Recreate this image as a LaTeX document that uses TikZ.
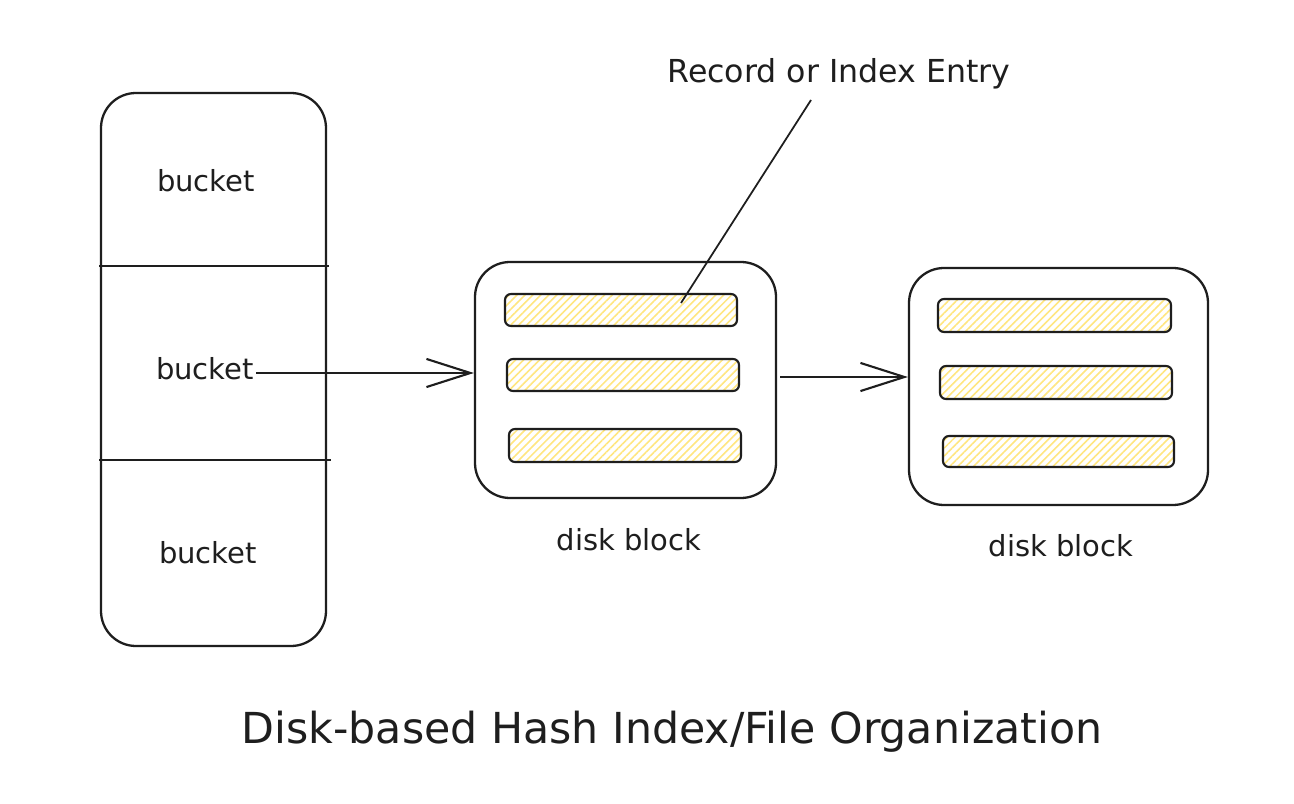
\documentclass[tikz,border=0pt]{standalone}
\usepackage{fontspec}
\setmainfont{DejaVu Sans}
\usetikzlibrary{fit,arrows.meta,patterns.meta,calc}
\definecolor{ink}{HTML}{1E1E1E}
\definecolor{hatch}{HTML}{FFE680}
\tikzset{
  bigbox/.style={draw=ink, line width=1.3pt, rounded corners=0.7cm, inner sep=0pt},
  entrybox/.style={draw=ink, line width=1.2pt, rounded corners=0.12cm, inner sep=0pt,
    pattern={Lines[angle=45,distance=3.2pt,line width=0.9pt]}, pattern color=hatch},
  lbl/.style={text=ink, font=\fontsize{16.5}{19}\selectfont, inner sep=0pt},
  conn/.style={draw=ink, line width=1.2pt, -{Straight Barb[length=25pt,width=16pt,line width=1.2pt]}},
  divider/.style={draw=ink, line width=1.2pt},
}
\begin{document}
\begin{tikzpicture}[x=0.02cm,y=-0.02cm]
\useasboundingbox[fill=white] (0,0) rectangle (1294,804);
% bucket column
\node[bigbox, fit={(101,93) (326,646)}] (col) {};
\coordinate (d1l) at (99,266); \coordinate (d1r) at (329,266);
\coordinate (d2l) at (99,460); \coordinate (d2r) at (331,460);
\draw[divider] (d1l) -- (d1r);
\draw[divider] (d2l) -- (d2r);
\node[lbl] (b1) at (206,181) {bucket};
\node[lbl] (b2) at (205,369) {bucket};
\node[lbl] (b3) at (208,553) {bucket};
% disk block 1
\node[bigbox, fit={(475,262) (776,498)}] (blk1) {};
\node[entrybox, fit={(505,294) (737,326)}] (e11) {};
\node[entrybox, fit={(507,359) (739,391)}] (e12) {};
\node[entrybox, fit={(509,429) (741,462)}] (e13) {};
\node[lbl] (dl1) at (629,540) {disk block};
% disk block 2
\node[bigbox, fit={(909,268) (1208,505)}] (blk2) {};
\node[entrybox, fit={(938,299) (1171,332)}] (e21) {};
\node[entrybox, fit={(940,366) (1172,399)}] (e22) {};
\node[entrybox, fit={(943,436) (1174,467)}] (e23) {};
\node[lbl] (dl2) at (1061,546) {disk block};
% connectors
\coordinate (a1s) at ($(b2.east)+(2,4)$);
\coordinate (a2s) at (780,377);
\draw[conn] (a1s) -- (blk1.west |- a1s);
\draw[conn] (a2s) -- (blk2.west |- a2s);
% annotation
\node[lbl, font=\fontsize{18}{21}\selectfont] (rec) at (839,74) {Record or Index Entry};
\coordinate (recend) at (811,100);
\coordinate (ptr) at (681,303);
\draw[ink, line width=1pt] (recend) -- (ptr);
% title
\node[text=ink, font=\fontsize{24.3}{29}\selectfont, inner sep=0pt] (title) at (672,732) {Disk-based Hash Index/File Organization};
\end{tikzpicture}
\end{document}
